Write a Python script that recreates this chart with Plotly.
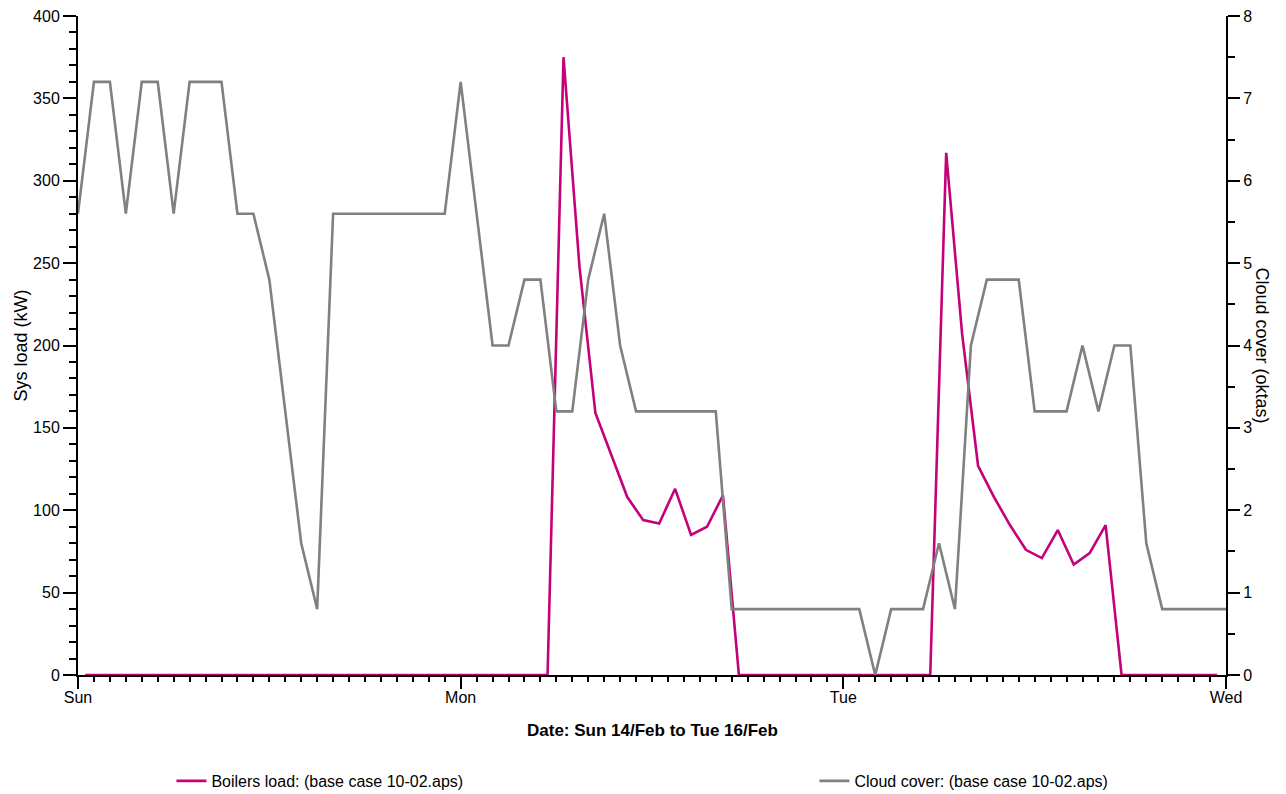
import pandas as pd
import plotly.graph_objects as go

# Hourly cloud cover (oktas), Sun 14/Feb 00:00 to Wed 17/Feb 00:00
cloud_start = "2021-02-14 00:00"
cloud_cover = [
    5.6, 7.2, 7.2, 5.6, 7.2, 7.2, 5.6, 7.2, 7.2, 7.2, 5.6, 5.6,
    4.8, 3.2, 1.6, 0.8, 5.6, 5.6, 5.6, 5.6, 5.6, 5.6, 5.6, 5.6,
    7.2, 5.6, 4.0, 4.0, 4.8, 4.8, 3.2, 3.2, 4.8, 5.6, 4.0, 3.2,
    3.2, 3.2, 3.2, 3.2, 3.2, 0.8, 0.8, 0.8, 0.8, 0.8, 0.8, 0.8,
    0.8, 0.8, 0.0, 0.8, 0.8, 0.8, 1.6, 0.8, 4.0, 4.8, 4.8, 4.8,
    3.2, 3.2, 3.2, 4.0, 3.2, 4.0, 4.0, 1.6, 0.8, 0.8, 0.8, 0.8,
    0.8,
]

# Hourly boiler load (kW), stamped part way through each hour
boiler_start = "2021-02-14 00:27"
boilers_load = [
    0, 0, 0, 0, 0, 0, 0, 0, 0, 0, 0, 0,
    0, 0, 0, 0, 0, 0, 0, 0, 0, 0, 0, 0,
    0, 0, 0, 0, 0, 0, 375, 248, 159, 133, 108, 94,
    92, 113, 85, 90, 109, 0, 0, 0, 0, 0, 0, 0,
    0, 0, 0, 0, 0, 0, 317, 207, 127, 108, 91, 76,
    71, 88, 67, 74, 91, 0, 0, 0, 0, 0, 0, 0,
]

cloud_times = pd.date_range(cloud_start, periods=len(cloud_cover), freq="h")
boiler_times = pd.date_range(boiler_start, periods=len(boilers_load), freq="h")

FONT = "Liberation Sans, Arial, Helvetica, sans-serif"
MAGENTA = "#c4007a"
GREY = "#808080"

fig = go.Figure()
fig.add_trace(go.Scatter(
    x=boiler_times, y=boilers_load, mode="lines",
    name="Boilers load: (base case 10-02.aps)",
    line=dict(color=MAGENTA, width=2.6),
    yaxis="y", legend="legend",
))
fig.add_trace(go.Scatter(
    x=cloud_times, y=cloud_cover, mode="lines",
    name="Cloud cover: (base case 10-02.aps)",
    line=dict(color=GREY, width=2.6),
    yaxis="y2", legend="legend2",
))

legend_style = dict(
    orientation="h", xref="container", yref="container",
    y=0.0164, xanchor="left", yanchor="middle",
    font=dict(size=16), bgcolor="rgba(0,0,0,0)",
)

fig.update_layout(
    width=1286, height=794,
    margin=dict(l=78, r=60, t=16, b=119, autoexpand=False),
    paper_bgcolor="white", plot_bgcolor="white",
    font=dict(family=FONT, size=16, color="black"),
    showlegend=True,
    legend=dict(x=0.1333, **legend_style),
    legend2=dict(x=0.6333, **legend_style),
    xaxis=dict(
        type="date",
        range=["2021-02-14 00:00", "2021-02-17 00:00"],
        tick0="2021-02-14", dtick=86400000, tickformat="%a",
        ticks="outside", ticklen=12, tickwidth=1.5, tickcolor="black",
        ticklabelstandoff=-5,
        minor=dict(dtick=3600000, ticks="outside", ticklen=5,
                   tickwidth=1.5, tickcolor="black"),
        showline=True, linecolor="black", linewidth=2,
        showgrid=False, zeroline=False, layer="below traces",
        tickfont=dict(size=16),
    ),
    yaxis=dict(
        range=[0, 400], dtick=50, tick0=0,
        ticks="outside", ticklen=13, tickwidth=1.5, tickcolor="black",
        minor=dict(dtick=10, ticks="outside", ticklen=7,
                   tickwidth=1.5, tickcolor="black"),
        showline=True, linecolor="black", linewidth=2,
        showgrid=False, zeroline=False, layer="below traces",
        tickfont=dict(size=16),
    ),
    yaxis2=dict(
        overlaying="y", side="right",
        range=[0, 8], dtick=1, tick0=0,
        ticks="outside", ticklen=12, tickwidth=1.5, tickcolor="black",
        minor=dict(dtick=0.5, ticks="outside", ticklen=7,
                   tickwidth=1.5, tickcolor="black"),
        showline=True, linecolor="black", linewidth=2,
        showgrid=False, zeroline=False, layer="below traces",
        tickfont=dict(size=16),
    ),
    annotations=[
        dict(text="Sys load (kW)", xref="paper", yref="paper",
             x=-0.0505, y=0.5, xanchor="center", yanchor="middle",
             textangle=-90, showarrow=False, font=dict(size=18)),
        dict(text="Cloud cover (oktas)", xref="paper", yref="paper",
             x=1.0322, y=0.5, xanchor="center", yanchor="middle",
             textangle=90, showarrow=False, font=dict(size=18)),
        dict(text="<b>Date: Sun 14/Feb to Tue 16/Feb</b>",
             xref="paper", yref="paper",
             x=0.5, y=-0.0849, xanchor="center", yanchor="middle",
             showarrow=False, font=dict(size=17)),
    ],
)

fig.write_html("out.html")
